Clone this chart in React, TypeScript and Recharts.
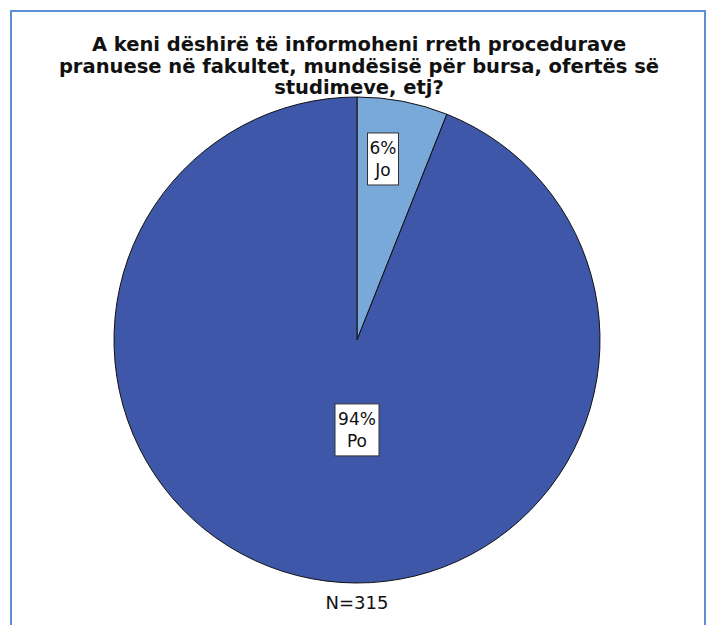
import { PieChart, Pie, Cell } from 'recharts'

const answers = ['Jo', 'Po']
const counts = [19, 296]
const shares = ['6%', '94%']
const titleLines = [
  'A keni dëshirë të informoheni rreth procedurave',
  'pranuese në fakultet, mundësisë për bursa, ofertës së',
  'studimeve, etj?',
]
const totalLabel = 'N=315'

const COLORS = ['#79a9d9', '#3e57a8']
// label anchor, in units of the radius, relative to the pie centre
const LABEL_OFFSETS = [
  { dx: 0.107, dy: -0.745 },
  { dx: 0, dy: 0.37 },
]

const data = answers.map((name, i) => ({ name, value: counts[i], share: shares[i] }))

const FONT = '"DejaVu Sans", sans-serif'

function SliceLabel(props: any) {
  const { cx, cy, outerRadius, index } = props
  const off = LABEL_OFFSETS[index]
  const x = cx + off.dx * outerRadius
  const y = cy + off.dy * outerRadius
  const d = data[index]
  const w = d.share.length > 2 ? 44 : 31
  const h = 52
  return (
    <g>
      <rect x={x - w / 2} y={y - h / 2} width={w} height={h} fill="#fff" stroke="#333" strokeWidth={1} />
      <text x={x} y={y - 5} textAnchor="middle" fontFamily={FONT} fontSize={17} fill="#111">
        {d.share}
      </text>
      <text x={x} y={y + 17} textAnchor="middle" fontFamily={FONT} fontSize={17} fill="#111">
        {d.name}
      </text>
    </g>
  )
}

export default function App() {
  return (
    <div style={{ position: 'fixed', left: 0, top: 0, width: 708, height: 625, background: '#fff', overflow: 'hidden' }}>
      <div
        style={{
          position: 'absolute',
          left: 10,
          top: 10,
          width: 692,
          height: 640,
          border: '2px solid #5b8fd6',
        }}
      />
      <div style={{ position: 'absolute', left: 0, top: 0 }}>
        <PieChart width={708} height={625} margin={{ top: 0, right: 0, bottom: 0, left: 0 }}>
          <Pie
            data={data}
            dataKey="value"
            nameKey="name"
            cx={357}
            cy={340}
            outerRadius={243}
            startAngle={90}
            endAngle={-270}
            stroke="#111"
            strokeWidth={1}
            label={SliceLabel}
            labelLine={false}
            isAnimationActive={false}
          >
            {data.map((entry, i) => (
              <Cell key={entry.name} fill={COLORS[i]} />
            ))}
          </Pie>
        </PieChart>
      </div>
      <div
        style={{
          position: 'absolute',
          left: 0,
          top: 34,
          width: 718,
          textAlign: 'center',
          fontFamily: FONT,
          fontWeight: 'bold',
          fontSize: 19.5,
          lineHeight: '21.5px',
          color: '#111',
        }}
      >
        {titleLines.map((t) => (
          <div key={t}>{t}</div>
        ))}
      </div>
      <div
        style={{
          position: 'absolute',
          left: 0,
          top: 592,
          width: 714,
          textAlign: 'center',
          fontFamily: FONT,
          fontSize: 18,
          color: '#111',
        }}
      >
        {totalLabel}
      </div>
    </div>
  )
}
